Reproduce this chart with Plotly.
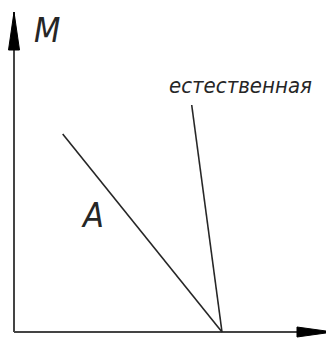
import plotly.graph_objects as go

# mechanical characteristics, origin at lower left of the axes
NATURAL_X = [177.7, 208.0]
NATURAL_Y = [227.0, 0.0]
A_X = [48.7, 208.0]
A_Y = [198.0, 0.0]

AXIS_X = [0, 0, 319]
AXIS_Y = [320, 0, 0]
LABELS = ["M", "естественная", "A"]

INK = "#262626"
FONT = dict(color=INK, style="italic")

fig = go.Figure()

# axes
fig.add_trace(go.Scatter(x=AXIS_X[:2], y=AXIS_Y[:2], mode="lines",
                         line=dict(color="#444", width=2), hoverinfo="skip"))
fig.add_trace(go.Scatter(x=AXIS_X[1:], y=AXIS_Y[1:], mode="lines",
                         line=dict(color="#444", width=2), hoverinfo="skip"))

# arrow heads
fig.add_trace(go.Scatter(x=[0, -5.5, 5.5, 0], y=[AXIS_Y[0], 282, 282, AXIS_Y[0]],
                         mode="lines", fill="toself", fillcolor="black",
                         line=dict(color="black", width=1), hoverinfo="skip"))
fig.add_trace(go.Scatter(x=[AXIS_X[2], 283, 283, AXIS_X[2]], y=[0, 5, -5, 0],
                         mode="lines", fill="toself", fillcolor="black",
                         line=dict(color="black", width=1), hoverinfo="skip"))

# characteristics
fig.add_trace(go.Scatter(x=NATURAL_X, y=NATURAL_Y, mode="lines",
                         line=dict(color=INK, width=1.6), hoverinfo="skip"))
fig.add_trace(go.Scatter(x=A_X, y=A_Y, mode="lines",
                         line=dict(color=INK, width=1.6), hoverinfo="skip"))

fig.add_annotation(x=33, y=302, text=LABELS[0], showarrow=False,
                   font=dict(size=34, family="DejaVu Sans Condensed", **FONT))
fig.add_annotation(x=226, y=247, text=LABELS[1], showarrow=False,
                   font=dict(size=22, family="DejaVu Sans Condensed", **FONT))
fig.add_annotation(x=78, y=117, text=LABELS[2], showarrow=False,
                   font=dict(size=34, family="DejaVu Sans Condensed", **FONT))

# page has an 8px body margin, so the figure is shrunk and the ranges shifted
fig.update_layout(
    width=326, height=330,
    margin=dict(l=0, r=0, t=0, b=0),
    plot_bgcolor="white", paper_bgcolor="white",
    showlegend=False,
    xaxis=dict(range=[-6, 320], visible=False, fixedrange=True),
    yaxis=dict(range=[-6, 324], visible=False, fixedrange=True),
)

fig.write_html("out.html", config={"displayModeBar": False})
